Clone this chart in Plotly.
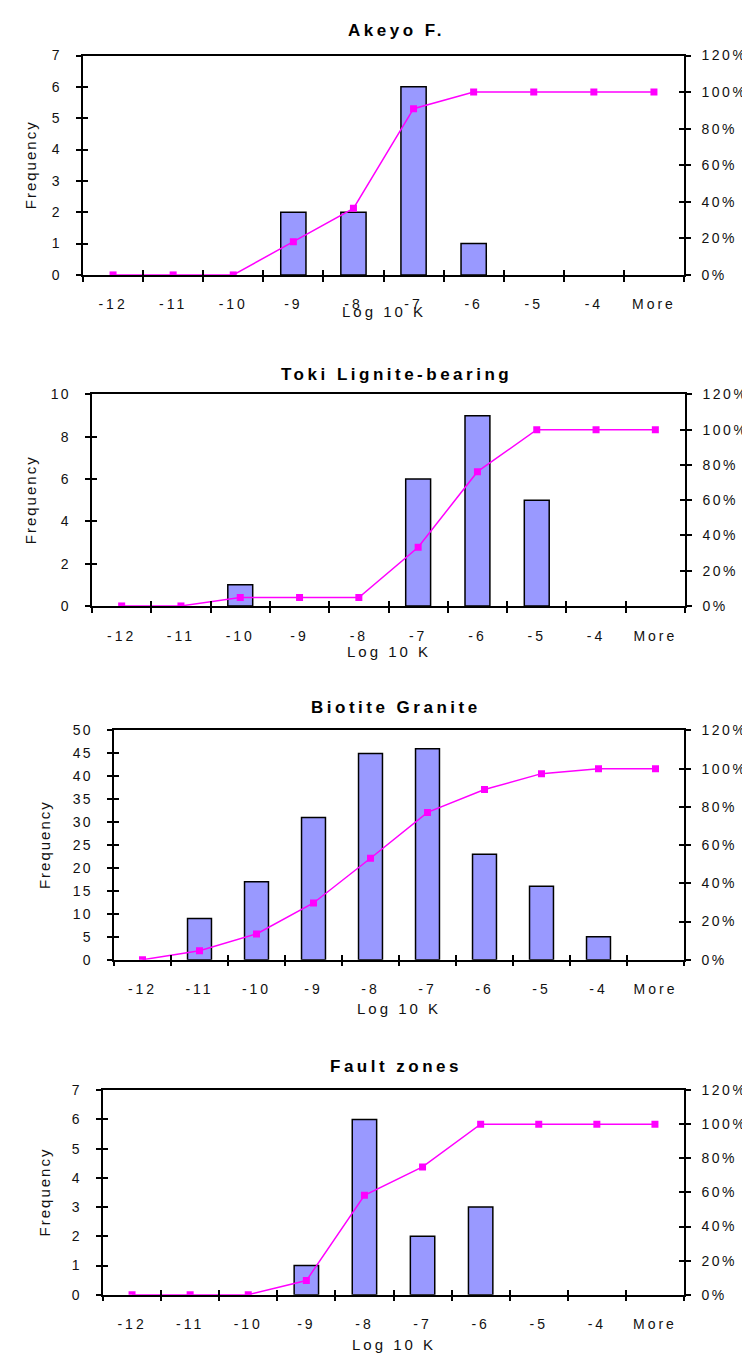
import plotly.graph_objects as go

# ---------------- data ----------------
labels = ["-12", "-11", "-10", "-9", "-8", "-7", "-6", "-5", "-4", "More"]
titles = ["Akeyo F.", "Toki Lignite-bearing", "Biotite Granite", "Fault zones"]

freq_akeyo = [0, 0, 0, 2, 2, 6, 1, 0, 0, 0]
cum_akeyo = [0, 0, 0, 18.2, 36.4, 90.9, 100, 100, 100, 100]

freq_toki = [0, 0, 1, 0, 0, 6, 9, 5, 0, 0]
cum_toki = [0, 0, 4.8, 4.8, 4.8, 33.3, 76.2, 100, 100, 100]

freq_biotite = [0, 9, 17, 31, 45, 46, 23, 16, 5, 0]
cum_biotite = [0, 4.7, 13.5, 29.7, 53.1, 77.1, 89.1, 97.4, 100, 100]

freq_fault = [0, 0, 0, 1, 6, 2, 3, 0, 0, 0]
cum_fault = [0, 0, 0, 8.3, 58.3, 75, 100, 100, 100, 100]

freqs = [freq_akeyo, freq_toki, freq_biotite, freq_fault]
cums = [cum_akeyo, cum_toki, cum_biotite, cum_fault]

freq_max = [7, 10, 50, 7]
freq_step = [1, 2, 5, 1]
pct_ticks = [0, 20, 40, 60, 80, 100, 120]

# ---------------- layout geometry (pixels) ----------------
W, H = 750, 1356
boxes = [(75, 676, 40, 262), (84, 677, 383, 597), (106, 676, 723, 955), (95, 676, 1087, 1294)]
freq_title_x = [22, 22, 36, 36]
title_y = [15, 363, 700, 1063]
xtitle_gap = [37, 46, 49, 50]

FONT = "Liberation Sans, Arial, sans-serif"
TXT = "#111111"
TICK = dict(ticklen=5, tickwidth=1.5, tickcolor="black")


def sp(t, ls=3):
    return f'<span style="letter-spacing:{ls}px">{t}</span>'


fig = go.Figure()
layout = dict(
    width=W, height=H, margin=dict(l=0, r=0, t=0, b=0),
    paper_bgcolor="white", plot_bgcolor="white",
    showlegend=False, font=dict(family=FONT, color=TXT, size=14),
)
annotations = []
n_cat = len(labels)
bounds = [k - 0.5 for k in range(n_cat + 1)]

for i in range(4):
    n = i + 1
    xa = "x" if n == 1 else f"x{n}"
    xo = f"x{n + 4}"                 # overlay x axis for inner tick halves
    yl_idx, yr_idx = 2 * n - 1, 2 * n
    yl = "y" if yl_idx == 1 else f"y{yl_idx}"
    yr = f"y{yr_idx}"
    ylo = f"y{8 + yl_idx}"           # overlay left axis (inner ticks)
    yro = f"y{8 + yr_idx}"           # overlay right axis (inner ticks)
    x0, x1, y0, y1 = boxes[i]

    fig.add_trace(go.Bar(
        x=labels, y=freqs[i], xaxis=xa, yaxis=yl, width=0.42,
        marker=dict(color="#9999FF",
                    line=dict(color="black", width=[0 if v == 0 else 1.5 for v in freqs[i]])),
    ))
    fig.add_trace(go.Scatter(
        x=labels, y=cums[i], xaxis=xa, yaxis=yr, mode="lines+markers",
        line=dict(color="#FF00FF", width=1.5),
        marker=dict(symbol="square", size=7, color="#FF00FF"),
    ))
    # empty helper traces so the overlay tick axes are drawn
    for xx, yy in ((xo, yl), (xa, ylo), (xa, yro)):
        fig.add_trace(go.Scatter(x=[None], y=[None], xaxis=xx, yaxis=yy,
                                 mode="markers", hoverinfo="skip"))

    xkey = "xaxis" if n == 1 else f"xaxis{n}"
    ylkey = "yaxis" if yl_idx == 1 else f"yaxis{yl_idx}"

    layout[xkey] = dict(
        domain=[x0 / W, x1 / W], anchor=yl, type="category",
        categoryorder="array", categoryarray=labels, range=[-0.5, n_cat - 0.5],
        tickmode="array", tickvals=labels, ticktext=[sp(l) for l in labels],
        tickson="boundaries", ticks="outside", **TICK,
        showline=True, linecolor="black", linewidth=1.5, mirror=True,
        showgrid=False, zeroline=False, ticklabelstandoff=16,
        tickfont=dict(size=14, color=TXT, family=FONT), fixedrange=True,
    )
    layout[f"xaxis{n + 4}"] = dict(
        overlaying=xa, anchor=yl, type="linear", range=[-0.5, n_cat - 0.5],
        tickmode="array", tickvals=bounds, ticks="inside", **TICK,
        showticklabels=False, showline=False, showgrid=False, zeroline=False, fixedrange=True,
    )
    fv = list(range(0, freq_max[i] + 1, freq_step[i]))
    layout[ylkey] = dict(
        domain=[1 - y1 / H, 1 - y0 / H], anchor=xa, range=[0, freq_max[i]],
        tickmode="array", tickvals=fv, ticktext=[sp(v, 2) for v in fv],
        ticks="outside", **TICK,
        showline=True, linecolor="black", linewidth=1.5,
        showgrid=False, zeroline=False, ticklabelstandoff=12,
        tickfont=dict(size=14, color=TXT, family=FONT), fixedrange=True,
    )
    layout[f"yaxis{8 + yl_idx}"] = dict(
        overlaying=yl, side="left", anchor=xa, range=[0, freq_max[i]],
        tickmode="array", tickvals=fv, ticks="inside", **TICK,
        showticklabels=False, showline=False, showgrid=False, zeroline=False, fixedrange=True,
    )
    layout[f"yaxis{yr_idx}"] = dict(
        overlaying=yl, side="right", anchor=xa, range=[0, 120],
        tickmode="array", tickvals=pct_ticks, ticktext=[sp(f"{v}%", 2.5) for v in pct_ticks],
        ticks="outside", **TICK,
        showline=True, linecolor="black", linewidth=1.5,
        showgrid=False, zeroline=False, ticklabelstandoff=8,
        tickfont=dict(size=14, color=TXT, family=FONT), fixedrange=True,
    )
    layout[f"yaxis{8 + yr_idx}"] = dict(
        overlaying=yl, side="right", anchor=xa, range=[0, 120],
        tickmode="array", tickvals=pct_ticks, ticks="inside", **TICK,
        showticklabels=False, showline=False, showgrid=False, zeroline=False, fixedrange=True,
    )

    annotations.append(dict(
        text=f"<b>{sp(titles[i], 3.5)}</b>", x=388 / W, y=1 - title_y[i] / H,
        xref="paper", yref="paper", showarrow=False, xanchor="center", yanchor="middle",
        font=dict(size=17, color="black", family=FONT),
    ))
    annotations.append(dict(
        text=sp("Log 10 K", 3), x=(x0 + x1) / 2 / W, y=1 - (y1 + xtitle_gap[i]) / H,
        xref="paper", yref="paper", showarrow=False, xanchor="center", yanchor="middle",
        font=dict(size=15, color=TXT, family=FONT),
    ))
    annotations.append(dict(
        text=sp("Frequency", 2), x=freq_title_x[i] / W, y=1 - (y0 + y1) / 2 / H,
        xref="paper", yref="paper", showarrow=False, xanchor="center", yanchor="middle",
        textangle=-90, font=dict(size=15, color=TXT, family=FONT),
    ))

layout["annotations"] = annotations
fig.update_layout(**layout)
fig.write_html("out.html")
